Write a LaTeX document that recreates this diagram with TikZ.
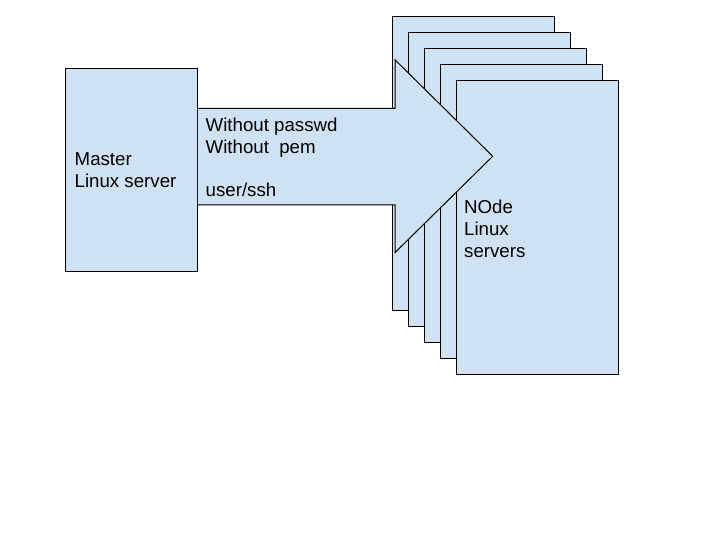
\documentclass[tikz,border=0pt]{standalone}
\usepackage{fontspec}
\setmainfont{Liberation Sans}
\definecolor{boxfill}{HTML}{CFE2F3}
\begin{document}
\begin{tikzpicture}[x=1pt,y=-1pt,
  box/.style={draw=black,fill=boxfill,line width=1pt,rectangle,inner sep=0pt,anchor=north west},
  lbl/.style={anchor=base west,inner sep=0pt,font=\fontsize{18.67}{21.8}\selectfont}]
\useasboundingbox (0,0) rectangle (720,540);
\node[box,minimum width=131.5pt,minimum height=202.5pt] (master) at (65.3,68.3) {};
\foreach \i in {0,...,4}{
  \node[box,minimum width=162.5pt,minimum height=294pt] (n\i) at (391.7+16*\i,16.2+16*\i) {};
}
\coordinate (a1) at (master.east |- 0,108.3);
\coordinate (a2) at (395,108.3);
\coordinate (a3) at (395,59.8);
\coordinate (tip) at (492.7,156.3);
\coordinate (a5) at (395,252.6);
\coordinate (a6) at (395,205);
\coordinate (a7) at (master.east |- 0,205);
\draw[line width=1pt,fill=boxfill,line join=miter] (a1) -- (a2) -- (a3) -- (tip) -- (a5) -- (a6) -- (a7);
\node[lbl] (mt) at (74.5,166) {\begin{tabular}[t]{@{}l@{}}Master\\Linux server\end{tabular}};
\node[lbl] (at) at (205.5,131.5) {\begin{tabular}[t]{@{}l@{}}Without passwd\\Without\ \ pem\\ \\user/ssh\end{tabular}};
\node[lbl] (nt) at (464,214) {\begin{tabular}[t]{@{}l@{}}NOde\\Linux\\servers\end{tabular}};
\end{tikzpicture}
\end{document}
